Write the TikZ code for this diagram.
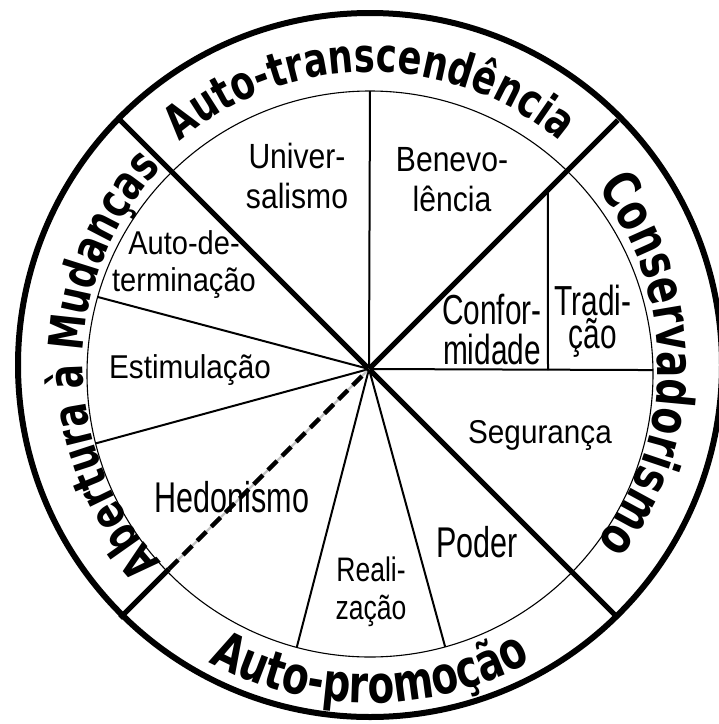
\documentclass[tikz,border=0pt]{standalone}
\usepackage{fontspec}
\setmainfont{Liberation Sans}
\newfontfamily\ringfont{DejaVu Sans}[FakeStretch=0.75]
\usetikzlibrary{calc, decorations.text}
\newcommand{\ringsize}[1]{\ringfont\bfseries\fontsize{#1}{#1}\selectfont}
\tikzset{
    rim/.style={line width=6pt},
    innerring/.style={line width=1.1pt},
    axis/.style={line width=5pt},
    spoke/.style={line width=2pt},
    dashaxis/.style={line width=4.5pt, dash pattern=on 13pt off 7pt},
    dashshade/.style={line width=2.2pt, color=gray!45},
    ringtext/.style={decorate, decoration={text along path, text align=center}},
    % value labels inside the wheel
    lbl/.style={align=center, inner sep=0pt},
    lblwide/.style={lbl, font=\fontsize{35}{40}\selectfont, xscale=0.86},
    lblplain/.style={lbl, font=\fontsize{33}{37}\selectfont, xscale=0.9},
    lbltall/.style={lbl, font=\fontsize{42}{40}\selectfont, xscale=0.71}
}

\begin{document}
\begin{tikzpicture}[x=1pt, y=1pt]
    \fill[white] (0,0) rectangle (719,-724);
    \useasboundingbox (0,0) rectangle (719,-724);
    \coordinate (hub) at (369,-369);
    \coordinate (oc) at (370,-365);
    \coordinate (ic) at (370,-374);

    \draw[innerring] (ic) circle (283);
    \foreach \a in {90, 0.8, 164.2, 194.2, 255, 285.4}
        \draw[spoke] (hub) -- ($(ic)+(\a:283)$);
    \draw[spoke] (548,-370) -- ($(hub)+(45:253)$);
    \foreach \a in {45, 135, 315}
        \draw[axis] (hub) -- ++(\a:352);
    \draw[axis] ($(hub)+(225:283)$) -- ($(hub)+(225:352)$);
    \draw[dashshade] ($(hub)+(225:283)$) -- (hub);
    \draw[dashaxis] ($(hub)+(225:283)$) -- (hub);
    \draw[rim] (oc) circle (352);

    \path[ringtext, decoration={text={|\ringsize{47}|Auto-transcendência}}]
        ($(oc)+(140:293)$) arc[start angle=140, end angle=40, radius=293];
    \path[ringtext, decoration={text={|\ringsize{52}|Conservadorismo}}]
        ($(oc)+(55:288)$) arc[start angle=55, end angle=-55, radius=288];
    \path[ringtext, decoration={text={|\ringsize{52}|Auto-promoção}}]
        ($(oc)+(220:338)$) arc[start angle=220, end angle=320, radius=338];
    \path[ringtext, decoration={text={|\ringsize{48}|Abertura à Mudanças}}]
        ($(oc)+(232:287)$) arc[start angle=232, end angle=128, radius=287];

    \node[lblwide] (univ) at (297,-176) {Univer-\\salismo};
    \node[lblwide] (bene) at (452,-180) {Benevo-\\lência};
    \node[lblwide, font=\fontsize{33}{37}\selectfont, xscale=0.88/0.86] (autod) at (184,-265) {Auto-de-\\terminação};
    \node[lblplain] (estim) at (190,-370) {Estimulação};
    \node[lbltall, font=\fontsize{43}{40}\selectfont] (hedon) at (232,-497) {Hedonismo};
    \node[lblwide, font=\fontsize{34}{38}\selectfont, xscale=0.78/0.86] (reali) at (371,-592) {Reali-\\zação};
    \node[lbltall, font=\fontsize{43}{40}\selectfont] (poder) at (477,-542) {Poder};
    \node[lblplain] (segur) at (540,-435) {Segurança};
    \node[lbltall] (confo) at (492,-330) {Confor-\\midade};
    \node[lbltall, font=\fontsize{42}{33}\selectfont] (tradi) at (593,-321) {Tradi-\\ção};
\end{tikzpicture}
\end{document}
